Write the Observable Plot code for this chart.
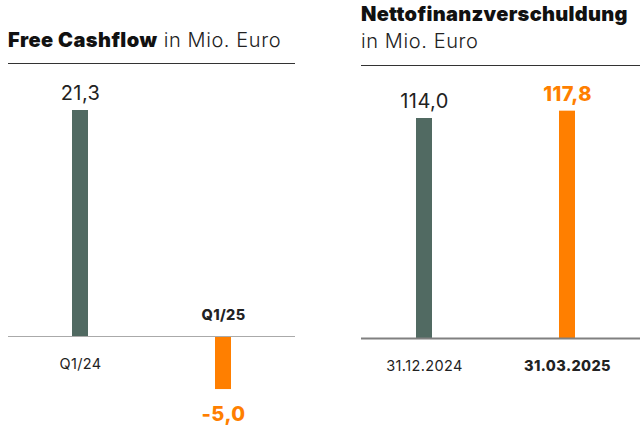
<!DOCTYPE html>
<html><head><meta charset="utf-8">
<script src="https://cdn.jsdelivr.net/npm/d3@7"></script>
<script src="https://cdn.jsdelivr.net/npm/@observablehq/plot@0.6"></script>
<style>
html,body{margin:0;padding:0;background:#fff;width:640px;height:426px;overflow:hidden;font-family:Inter,"Open Sans",sans-serif;color:#111;}
.abs{position:absolute;white-space:nowrap;}
.t{font-size:20px;font-weight:900;color:#111;letter-spacing:0.45px;}
.s{font-size:20px;font-weight:300;color:#222;letter-spacing:0.6px;}
.rule{position:absolute;height:0;border-top:1.3px solid #333;}
#left,#right{position:absolute;top:70px;}
#left{left:0;} #right{left:340px;}
</style></head>
<body>
<div class="abs" style="left:8px;top:28px;"><span class="t">Free Cashflow</span><span class="s"> in Mio. Euro</span></div>
<div class="rule" style="left:8px;top:63px;width:287px;"></div>
<div class="abs t" style="left:361px;top:2px;letter-spacing:0.3px;">Nettofinanzverschuldung</div>
<div class="abs s" style="left:361px;top:29px;">in Mio. Euro</div>
<div class="rule" style="left:361px;top:65px;width:279px;"></div>
<div id="left"></div>
<div id="right"></div>
<script>
const fcfLabels = ["Q1/24", "Q1/25"];
const fcfValues = [21.3, -5.0];
const nfvLabels = ["31.12.2024", "31.03.2025"];
const nfvValues = [114.0, 117.8];
const currentIndex = 1;

const GREEN = "#516a62", ORANGE = "#ff7f00";
const fmt = v => v.toFixed(1).replace(".", ",");

function chart(labels, values, opts) {
  const data = labels.map((l, i) => ({label: l, value: values[i], cur: i === currentIndex}));
  const F = f => data.filter(f);
  const catMarks = [], valMarks = [];
  for (const cur of [false, true]) {
    for (const pos of [true, false]) {
      const sub = F(d => d.cur === cur && (d.value >= 0) === pos);
      if (!sub.length) continue;
      catMarks.push(Plot.text(sub, {x: "label", y: () => 0, text: "label", fontSize: 14.5,
        fontWeight: cur ? 800 : 400, fill: "#222", dy: pos ? 28 : -21}));
      valMarks.push(Plot.text(sub, {x: "label", y: "value", text: d => fmt(d.value),
        fontSize: 20, fontWeight: cur ? 800 : 400, fill: cur ? ORANGE : "#222",
        dy: pos ? -17 : 25}));
    }
  }
  return Plot.plot({
    width: 300, height: 356,
    marginLeft: opts.ml, marginRight: opts.mr, marginTop: 0, marginBottom: 0,
    style: {fontFamily: "Inter, 'Open Sans', sans-serif", background: "transparent", letterSpacing: "0.4px"},
    x: {type: "band", domain: labels, range: opts.xr, paddingInner: 1 - 16/143, paddingOuter: 0, axis: null},
    y: {domain: [0, opts.ref], range: opts.yr, axis: null},
    marks: [
      Plot.barY(data, {x: "label", y: "value", fill: d => d.cur ? ORANGE : GREEN}),
      Plot.ruleY([0], {stroke: opts.baseColor, strokeWidth: opts.baseW}),
      ...catMarks,
      ...valMarks
    ]
  });
}

document.getElementById("left").append(chart(fcfLabels, fcfValues,
  {ml: 8, mr: 5, xr: [72, 231], ref: 21.3, yr: [266, 40], baseColor: "#aaa", baseW: 1.2}));
document.getElementById("right").append(chart(nfvLabels, nfvValues,
  {ml: 21, mr: 0, xr: [76, 235], ref: 114.0, yr: [268, 48], baseColor: "#808080", baseW: 2}));
</script>
</body></html>
